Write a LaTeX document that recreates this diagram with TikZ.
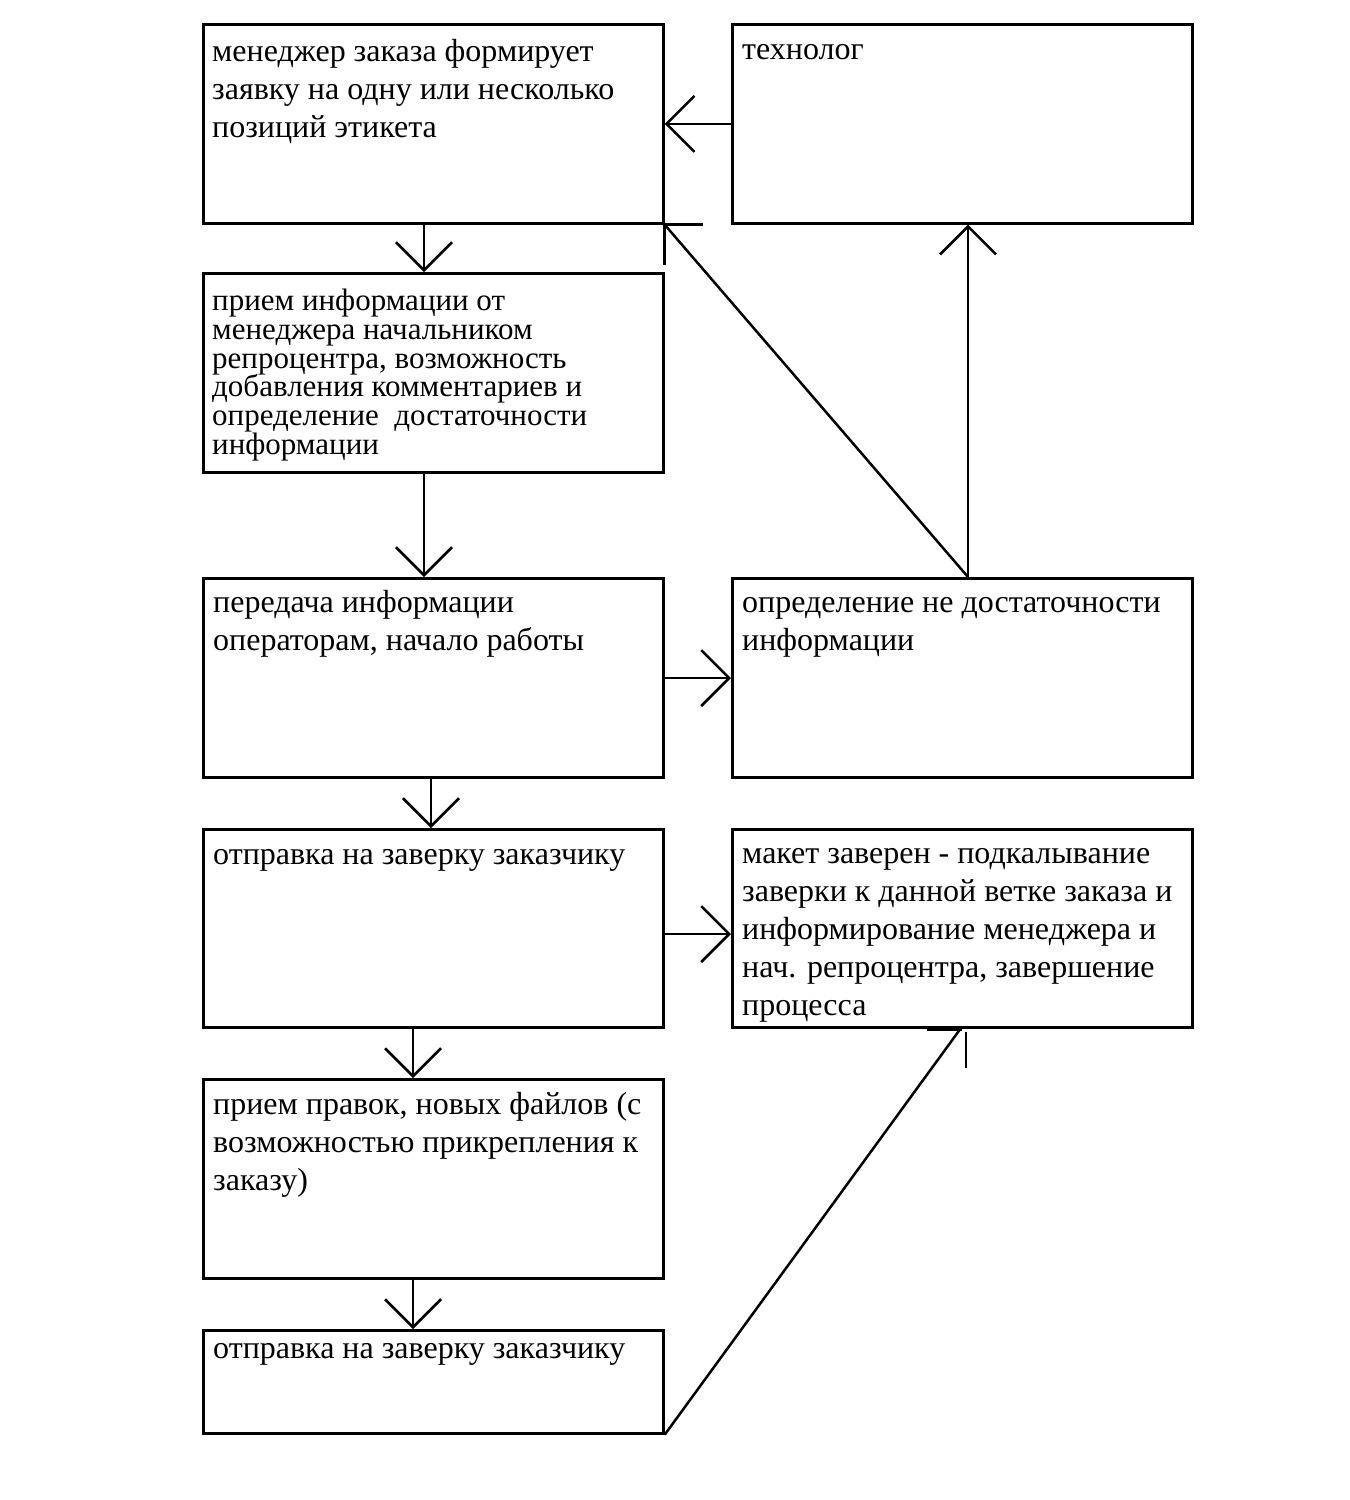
\documentclass[tikz,border=0pt]{standalone}
\usepackage{fontspec}
\setmainfont{Liberation Serif}
\usetikzlibrary{arrows.meta}
\begin{document}
\begin{tikzpicture}[x=1pt,y=-1pt,
  box/.style={draw,line width=2.7pt,rectangle,minimum width=460pt,anchor=north west,inner sep=0pt},
  txt/.style={anchor=north west,align=left,inner sep=0pt,font=\fontsize{32}{38}\selectfont},
  txtc/.style={anchor=north west,align=left,inner sep=0pt,font=\fontsize{31}{28.8}\selectfont},
  conn/.style={line width=2.5pt},
  arr/.style={line width=2.5pt,-{Straight Barb[length=28pt,width=56pt,line width=2.5pt]}}]
\useasboundingbox (0,0) rectangle (1350,1500);
\fill[white] (0,0) rectangle (1350,1500);
% boxes
\node[box,minimum height=199pt] (b1) at (202,23) {};
\node[box,minimum height=199pt] (b2) at (731,23) {};
\node[box,minimum height=199pt] (b3) at (202,272) {};
\node[box,minimum height=199pt] (b4) at (202,577) {};
\node[box,minimum height=199pt] (b5) at (731,577) {};
\node[box,minimum height=198pt] (b6) at (202,828) {};
\node[box,minimum height=198pt] (b7) at (731,828) {};
\node[box,minimum height=199pt] (b8) at (202,1078) {};
\node[box,minimum height=103pt] (b9) at (202,1329) {};
% texts (first baseline = y + 0.7*baselineskip)
\node[txt] (t1) at (212,{61-26.6}) {\strut менеджер заказа формирует\\\strut заявку на одну или несколько\\\strut позиций этикета};
\node[txt] (t2) at (742,{59-26.6}) {\strut технолог};
\node[txtc] (t3) at (212,{309-20.2}) {\strut прием информации от\\менеджера начальником\\репроцентра, возможность\\добавления комментариев и\\определение\ \ достаточности\\информации};
\node[txt] (t4) at (213,{612-26.6}) {\strut передача информации\\\strut операторам, начало работы};
\node[txt] (t5) at (742,{612-26.6}) {\strut определение не достаточности\\\strut информации};
\node[txt] (t6) at (213,{864-26.6}) {\strut отправка на заверку заказчику};
\node[txt] (t7) at (742,{863-26.6}) {\strut макет заверен - подкалывание\\\strut заверки к данной ветке заказа и\\\strut информирование менеджера и\\\strut нач. репроцентра, завершение\\\strut процесса};
\node[txt] (t8) at (213,{1114-26.6}) {\strut прием правок, новых файлов (с\\\strut возможностью прикрепления к\\\strut заказу)};
\node[txt] (t9) at (213,{1358-26.6}) {\strut отправка на заверку заказчику};
% connectors
\draw[arr] (b2.west) -- (b1.east);
\draw[arr] (b1.south -| 424,0) -- (b3.north -| 424,0);
\draw[arr] (b3.south -| 424,0) -- (b4.north -| 424,0);
\draw[arr] (b4.east |- 0,678) -- (b5.west |- 0,678);
\draw[arr] (b5.north -| 968,0) -- (b2.south -| 968,0);
\coordinate (d1) at (b5.north -| 968,0);
\draw[conn] (d1) -- (b1.south east);
\draw[conn] (b1.south east) -- ++(38,0);
\draw[conn] (b1.south east) -- ++(0,40);
\draw[arr] (b4.south -| 431,0) -- (b6.north -| 431,0);
\draw[arr] (b6.east |- 0,934) -- (b7.west |- 0,934);
\draw[arr] (b6.south -| 413,0) -- (b8.north -| 413,0);
\draw[arr] (b8.south -| 413,0) -- (b9.north -| 413,0);
\coordinate (e1) at (961,1028);
\draw[conn] (b9.south east) -- (e1);
\draw[conn] (927,1030) -- (962,1030);
\draw[conn] (966,1032) -- (966,1068);
\end{tikzpicture}
\end{document}
